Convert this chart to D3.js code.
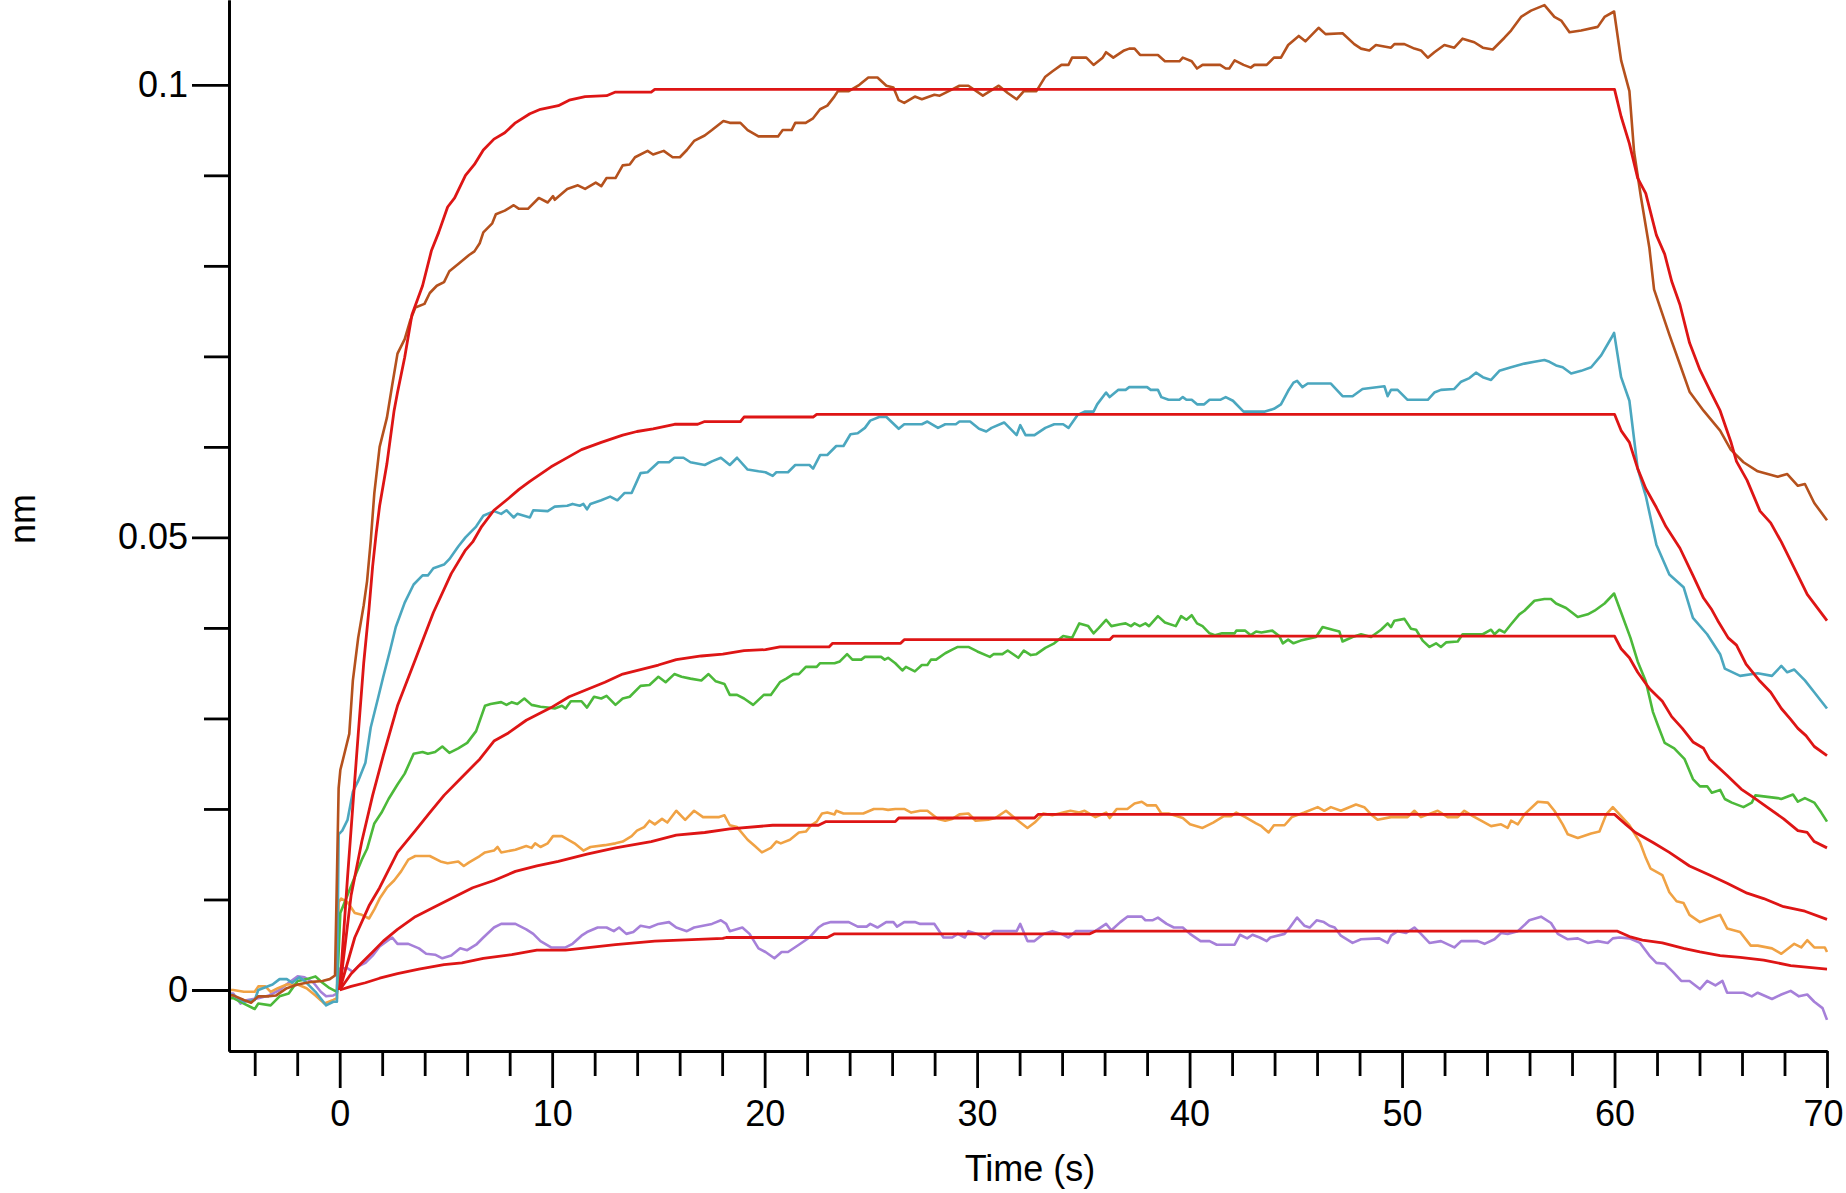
<!DOCTYPE html>
<html>
<head>
<meta charset="utf-8">
<script src="https://cdn.jsdelivr.net/npm/d3@7"></script>
<style>
  body { margin: 0; background: #fff; }
  text { font-family: "Liberation Sans", Arial, sans-serif; fill: #000; }
</style>
</head>
<body>
<div id="chart"></div>
<script>
// measured responses [time s, nm]
const brownData = [[-5.2,-0.0006],[-5.01,-0.0006],[-4.51,-0.0011],[-4.17,-0.0014],[-3.83,-0.0007],[-3.33,-0.0007],[-2.99,-0.0006],[-2.49,0.0002],[-1.98,0.0006],[-1.31,0.0009],[-0.81,0.001],[-0.47,0.0012],[-0.22,0.0016],[-0.05,0.0223],[0.03,0.0243],[0.2,0.0259],[0.45,0.0283],[0.62,0.0342],[0.87,0.0389],[1.13,0.0425],[1.29,0.0452],[1.46,0.0496],[1.63,0.0549],[1.88,0.06],[2.22,0.0632],[2.47,0.0668],[2.72,0.0703],[3.06,0.0719],[3.31,0.0739],[3.56,0.0754],[3.99,0.0758],[4.24,0.077],[4.57,0.0778],[4.91,0.0782],[5.16,0.0794],[5.58,0.0802],[6.09,0.0812],[6.34,0.0816],[6.59,0.0825],[6.76,0.0837],[7.18,0.0847],[7.35,0.0857],[7.77,0.0861],[8.19,0.0867],[8.44,0.0863],[8.86,0.0863],[9.37,0.0875],[9.79,0.087],[10.04,0.0877],[10.12,0.0873],[10.71,0.0885],[11.21,0.0889],[11.55,0.0885],[12.05,0.0892],[12.31,0.0888],[12.56,0.0897],[12.98,0.0897],[13.32,0.0911],[13.65,0.0912],[13.9,0.092],[14.49,0.0927],[14.75,0.0923],[15.25,0.0927],[15.67,0.092],[16.01,0.092],[16.34,0.0928],[16.68,0.0938],[17.18,0.0944],[17.52,0.095],[18.06,0.096],[18.36,0.0958],[18.86,0.0958],[19.2,0.095],[19.71,0.0943],[20.63,0.0943],[20.85,0.095],[21.27,0.095],[21.44,0.0958],[21.93,0.0958],[22.28,0.0963],[22.61,0.0973],[22.95,0.0977],[23.28,0.0987],[23.45,0.0993],[23.96,0.0993],[24.46,0.1],[24.88,0.1008],[25.31,0.1008],[25.73,0.0999],[26.06,0.0997],[26.31,0.0983],[26.57,0.098],[27.07,0.0987],[27.4,0.0984],[27.99,0.0989],[28.24,0.0988],[28.83,0.0995],[29.17,0.0999],[29.59,0.0999],[30.27,0.0988],[31.02,0.0999],[31.44,0.0991],[31.86,0.0984],[32.2,0.0993],[32.79,0.0993],[33.21,0.1009],[33.55,0.1015],[33.97,0.1022],[34.3,0.1022],[34.47,0.103],[35.14,0.103],[35.48,0.1022],[35.91,0.103],[36.07,0.1036],[36.41,0.103],[36.92,0.1038],[37.16,0.104],[37.41,0.104],[37.67,0.1033],[38.51,0.1033],[38.84,0.1026],[39.52,0.1026],[39.68,0.103],[40.1,0.1026],[40.35,0.1018],[40.61,0.1022],[41.44,0.1022],[41.7,0.1018],[41.87,0.1018],[42.12,0.1027],[42.54,0.1022],[42.88,0.1019],[43.05,0.1022],[43.63,0.1022],[43.97,0.103],[44.3,0.103],[44.64,0.1044],[45.14,0.1054],[45.45,0.1048],[46.07,0.1063],[46.4,0.1056],[47.2,0.1057],[47.75,0.1045],[48.07,0.104],[48.46,0.1038],[48.77,0.1044],[49.48,0.1041],[49.64,0.1045],[50.11,0.1045],[50.58,0.104],[50.89,0.1038],[51.21,0.103],[51.52,0.1036],[51.99,0.1044],[52.46,0.1041],[52.85,0.1051],[53.4,0.1047],[53.8,0.1041],[54.27,0.1039],[54.82,0.1052],[55.13,0.106],[55.6,0.1075],[56.07,0.1082],[56.7,0.1088],[57.17,0.1075],[57.49,0.1071],[57.88,0.1058],[58.43,0.106],[59.21,0.1064],[59.53,0.1075],[59.98,0.1081],[60.31,0.1027],[60.7,0.0993],[60.92,0.0926],[61.25,0.0875],[61.64,0.082],[61.86,0.0774],[62.58,0.0724],[63.08,0.0691],[63.53,0.0661],[64.19,0.064],[64.97,0.0618],[65.47,0.0597],[66.07,0.0583],[66.74,0.0573],[67.68,0.0567],[68.13,0.057],[68.63,0.0557],[68.96,0.0559],[69.4,0.0538],[70,0.0519]];

const tealData = [[-5.2,-0.0004],[-5.01,-0.0006],[-4.51,-0.0013],[-4,-0.0011],[-3.83,0],[-3.16,0.0006],[-2.83,0.0012],[-2.49,0.0012],[-2.24,0.0008],[-1.9,0.0014],[-1.65,0.001],[-1.14,-0.0002],[-0.64,-0.0017],[-0.3,-0.0013],[-0.13,-0.0013],[-0.05,0.0172],[0.12,0.0176],[0.37,0.0188],[0.62,0.0219],[0.87,0.0231],[1.21,0.0251],[1.46,0.029],[1.8,0.0322],[2.05,0.0346],[2.39,0.0377],[2.64,0.0401],[3.06,0.0428],[3.48,0.0448],[3.9,0.0458],[4.15,0.0458],[4.41,0.0466],[4.91,0.047],[5.16,0.0476],[5.58,0.049],[5.92,0.05],[6.42,0.0512],[6.76,0.0524],[7.26,0.0529],[7.6,0.0526],[7.85,0.053],[8.19,0.0522],[8.36,0.0526],[8.95,0.0522],[9.11,0.053],[9.79,0.0529],[10.12,0.0534],[10.71,0.0535],[10.96,0.0537],[11.3,0.0535],[11.47,0.0537],[11.64,0.0531],[11.8,0.0537],[12.31,0.0541],[12.73,0.0545],[13.07,0.0541],[13.4,0.0549],[13.74,0.0549],[14.16,0.0571],[14.49,0.0572],[15,0.0583],[15.5,0.0583],[15.75,0.0588],[16.18,0.0588],[16.51,0.0583],[17.18,0.058],[17.52,0.0584],[17.94,0.0588],[18.36,0.058],[18.7,0.0588],[19.2,0.0575],[19.71,0.0573],[20.04,0.0572],[20.38,0.0568],[20.55,0.0572],[21.1,0.0572],[21.44,0.058],[22.11,0.058],[22.28,0.0576],[22.61,0.0591],[22.95,0.0591],[23.37,0.0601],[23.71,0.0601],[24.04,0.0614],[24.38,0.0615],[24.72,0.0621],[24.97,0.0629],[25.39,0.0633],[25.73,0.0633],[26.31,0.062],[26.57,0.0625],[27.4,0.0625],[27.66,0.0628],[28.16,0.0621],[28.5,0.0625],[29,0.0625],[29.17,0.0628],[29.67,0.0628],[30.09,0.062],[30.43,0.0617],[30.68,0.0621],[31.27,0.0627],[31.86,0.0613],[32.03,0.0624],[32.28,0.0613],[32.7,0.0613],[33.21,0.0621],[33.63,0.0625],[34.05,0.0625],[34.3,0.0621],[34.72,0.0635],[35.06,0.0639],[35.48,0.0639],[35.65,0.0647],[36.07,0.066],[36.24,0.0655],[36.65,0.0663],[36.99,0.0663],[37.16,0.0666],[38,0.0666],[38.17,0.0663],[38.51,0.0663],[38.67,0.0655],[39.01,0.0652],[39.52,0.0652],[39.68,0.0655],[39.85,0.0652],[40.1,0.0652],[40.35,0.0647],[40.69,0.0647],[40.94,0.0652],[41.44,0.0652],[41.7,0.0655],[42.04,0.0651],[42.54,0.0639],[43.55,0.0639],[43.97,0.0642],[44.3,0.0647],[44.64,0.0662],[44.89,0.0671],[45.06,0.0673],[45.31,0.0666],[45.56,0.067],[46.65,0.067],[47.2,0.0656],[47.67,0.0656],[48.14,0.0664],[49.17,0.0667],[49.32,0.0656],[49.48,0.0663],[49.79,0.0663],[50.26,0.0652],[51.21,0.0652],[51.52,0.066],[51.83,0.0663],[52.46,0.0664],[52.78,0.0672],[53.17,0.0676],[53.48,0.0682],[53.8,0.0677],[54.19,0.0674],[54.58,0.0684],[55.13,0.0688],[55.76,0.0692],[56.23,0.0694],[56.7,0.0696],[56.94,0.0694],[57.25,0.069],[57.56,0.0688],[57.96,0.0681],[58.43,0.0684],[58.9,0.0688],[59.37,0.0701],[59.84,0.072],[59.98,0.0726],[60.31,0.0677],[60.7,0.0651],[61.09,0.0576],[61.47,0.0546],[61.97,0.0492],[62.58,0.0459],[63.25,0.0445],[63.69,0.0411],[64.36,0.0393],[64.97,0.0371],[65.19,0.0355],[65.91,0.0347],[66.74,0.035],[67.41,0.0347],[67.85,0.0358],[68.13,0.0351],[68.46,0.0354],[68.96,0.0342],[69.4,0.0329],[70,0.0311]];

const greenData = [[-5.2,-0.0009],[-5.01,-0.0009],[-4.51,-0.0015],[-4,-0.0021],[-3.83,-0.0015],[-3.25,-0.0017],[-2.83,-0.0007],[-2.4,-0.0004],[-1.98,0.001],[-1.56,0.0012],[-1.14,0.0015],[-0.81,0.0008],[-0.47,0.0002],[-0.13,-0.0002],[0.03,0.0085],[0.37,0.0105],[0.71,0.0125],[1.04,0.0144],[1.29,0.0156],[1.63,0.0184],[1.97,0.0196],[2.3,0.0211],[2.72,0.0227],[3.06,0.0239],[3.48,0.0261],[3.9,0.0263],[4.15,0.0261],[4.49,0.0263],[4.83,0.0269],[5.16,0.0262],[5.58,0.0267],[6,0.0273],[6.42,0.0286],[6.84,0.0314],[7.1,0.0316],[7.6,0.0318],[7.85,0.0315],[8.1,0.0318],[8.36,0.0316],[8.69,0.0322],[9.03,0.0315],[9.45,0.0313],[9.79,0.0312],[10.12,0.0311],[10.46,0.0314],[10.63,0.0311],[10.88,0.0319],[11.38,0.0319],[11.64,0.0312],[11.97,0.0324],[12.31,0.0322],[12.56,0.0325],[12.98,0.0315],[13.32,0.0322],[13.65,0.0324],[14.16,0.0336],[14.58,0.0337],[15,0.0346],[15.34,0.034],[15.75,0.0349],[16.09,0.0346],[16.51,0.0344],[17.02,0.0342],[17.36,0.0349],[17.7,0.0341],[18.11,0.0338],[18.36,0.0326],[18.7,0.0326],[19.03,0.0322],[19.46,0.0315],[19.96,0.0326],[20.29,0.0326],[20.72,0.034],[21.02,0.0344],[21.35,0.0349],[21.61,0.0349],[21.94,0.0357],[22.45,0.0357],[22.61,0.0361],[23.29,0.0361],[23.54,0.0363],[23.88,0.0371],[24.13,0.0365],[24.55,0.0365],[24.72,0.0368],[25.48,0.0368],[25.65,0.0365],[25.81,0.0367],[26.15,0.0361],[26.48,0.0353],[26.65,0.0357],[27.07,0.0352],[27.4,0.0359],[27.66,0.0359],[27.83,0.0365],[28.07,0.0365],[28.5,0.0372],[28.83,0.0376],[29.09,0.0379],[29.59,0.0379],[30.01,0.0374],[30.6,0.0368],[30.77,0.0371],[31.19,0.0371],[31.44,0.0375],[31.94,0.0367],[32.2,0.0375],[32.53,0.037],[32.79,0.0371],[33.21,0.0378],[33.63,0.0383],[34.05,0.0391],[34.47,0.0389],[34.81,0.0405],[35.23,0.0402],[35.48,0.0394],[35.73,0.04],[36.07,0.0409],[36.32,0.0402],[36.74,0.0404],[36.99,0.0405],[37.24,0.0402],[37.41,0.0405],[37.66,0.0402],[37.92,0.0405],[38.09,0.0402],[38.51,0.0413],[38.84,0.0406],[39.35,0.0402],[39.6,0.0413],[39.85,0.0409],[40.1,0.0414],[40.35,0.0405],[40.61,0.0402],[40.94,0.0394],[41.19,0.0392],[41.53,0.0394],[42.12,0.0394],[42.2,0.0397],[42.62,0.0397],[42.88,0.0392],[43.13,0.0396],[43.38,0.0395],[43.89,0.0397],[44.22,0.0391],[44.39,0.0383],[44.64,0.0387],[44.89,0.0383],[45.23,0.0386],[45.95,0.039],[46.26,0.0401],[46.73,0.0398],[47.05,0.0396],[47.2,0.0385],[47.67,0.039],[48.07,0.0393],[48.54,0.039],[49.01,0.0398],[49.32,0.0405],[49.48,0.0401],[49.64,0.0408],[50.11,0.041],[50.42,0.0399],[50.66,0.0398],[50.97,0.0386],[51.29,0.0379],[51.6,0.0383],[51.83,0.0379],[52.07,0.0384],[52.62,0.0385],[52.85,0.0393],[53.8,0.0393],[54.19,0.0398],[54.35,0.0393],[54.58,0.0398],[54.82,0.0395],[55.13,0.0404],[55.52,0.0415],[55.76,0.0419],[56.23,0.043],[56.7,0.0432],[57.01,0.0432],[57.25,0.0427],[57.72,0.0422],[58.27,0.0412],[58.74,0.0415],[59.06,0.0419],[59.53,0.0427],[59.98,0.0438],[60.31,0.0417],[60.75,0.0389],[61.09,0.0363],[61.47,0.0341],[61.81,0.0307],[62.03,0.0293],[62.36,0.0273],[62.81,0.0267],[63.3,0.0255],[63.69,0.0233],[64.02,0.0225],[64.36,0.0225],[64.58,0.0218],[64.97,0.0221],[65.19,0.0211],[65.52,0.0207],[66.07,0.0202],[66.46,0.0207],[66.63,0.0215],[67.68,0.0212],[67.85,0.0211],[68.4,0.0216],[68.63,0.0208],[68.96,0.0212],[69.4,0.0207],[69.73,0.0196],[70,0.0186]];

const orangeData = [[-5.2,0],[-5.01,0],[-4.51,-0.0002],[-4,-0.0002],[-3.83,0.0004],[-3.5,0.0004],[-3.25,-0.0002],[-2.91,0.0002],[-2.49,0.0006],[-1.98,0.0006],[-1.56,0.0002],[-1.14,-0.0006],[-0.72,-0.0015],[-0.3,-0.0011],[-0.13,-0.0009],[-0.05,0.0097],[0.07,0.0101],[0.37,0.0097],[0.71,0.0085],[1.04,0.0083],[1.38,0.0079],[1.63,0.0089],[1.88,0.0101],[2.22,0.0113],[2.56,0.0121],[2.89,0.0131],[3.23,0.0144],[3.56,0.0148],[4.24,0.0148],[4.74,0.0142],[5.08,0.014],[5.58,0.0142],[5.84,0.0137],[6.09,0.0141],[6.59,0.0148],[6.84,0.0152],[7.26,0.0154],[7.43,0.0158],[7.6,0.0152],[8.27,0.0155],[8.78,0.0159],[9.03,0.0157],[9.2,0.0162],[9.45,0.0158],[9.79,0.0162],[10.04,0.017],[10.46,0.017],[11.05,0.0162],[11.47,0.0154],[11.8,0.0158],[12.48,0.016],[12.98,0.0162],[13.32,0.0164],[13.74,0.017],[13.99,0.0176],[14.33,0.018],[14.58,0.0187],[14.83,0.0183],[15.17,0.0189],[15.42,0.0185],[15.84,0.0198],[16.26,0.0188],[16.68,0.0198],[17.1,0.0191],[17.86,0.0191],[18.11,0.0193],[18.36,0.0182],[18.7,0.018],[19.2,0.0166],[19.54,0.0159],[19.87,0.0152],[20.29,0.0157],[20.55,0.0164],[20.76,0.0162],[21.19,0.0166],[21.61,0.0174],[21.94,0.0175],[22.19,0.0182],[22.45,0.0186],[22.7,0.0195],[22.95,0.0196],[23.29,0.0194],[23.37,0.0198],[23.71,0.0195],[24.64,0.0195],[25.14,0.02],[25.56,0.02],[25.81,0.0199],[26.15,0.02],[26.57,0.02],[26.9,0.0196],[27.32,0.0198],[27.66,0.0198],[28.16,0.0189],[28.5,0.0187],[28.83,0.0189],[29.17,0.0194],[29.59,0.0195],[29.93,0.0187],[30.52,0.0188],[30.86,0.019],[31.36,0.0198],[31.87,0.0188],[32.37,0.0179],[32.71,0.0185],[33.12,0.0195],[33.54,0.0193],[34.05,0.0196],[34.39,0.0198],[34.81,0.0196],[35.06,0.0198],[35.57,0.0191],[36.07,0.0196],[36.24,0.019],[36.57,0.02],[37.07,0.02],[37.41,0.0206],[37.75,0.0208],[38,0.0204],[38.42,0.0204],[38.67,0.0195],[39.01,0.0195],[39.68,0.019],[40.02,0.0183],[40.61,0.0179],[41.11,0.0185],[41.61,0.0192],[41.95,0.0192],[42.2,0.0196],[42.62,0.0191],[43.13,0.0184],[43.38,0.0181],[43.72,0.0174],[43.97,0.0182],[44.47,0.0182],[44.81,0.0191],[45.4,0.0196],[46.03,0.0202],[46.34,0.0198],[46.65,0.0202],[47.12,0.0198],[47.83,0.0205],[48.22,0.0202],[48.54,0.0194],[48.85,0.0188],[49.48,0.0191],[50.26,0.0191],[50.58,0.0198],[50.89,0.0191],[51.68,0.0198],[52.15,0.0191],[52.62,0.0191],[52.93,0.0198],[53.33,0.0192],[53.72,0.0187],[54.19,0.0181],[54.66,0.0183],[54.97,0.0179],[55.13,0.0187],[55.45,0.0183],[55.76,0.0194],[56.39,0.0208],[56.86,0.0207],[57.17,0.0198],[57.56,0.0183],[57.8,0.0172],[58.27,0.0168],[58.9,0.0173],[59.29,0.0175],[59.61,0.0194],[59.92,0.0202],[60.31,0.0192],[60.7,0.0182],[61.2,0.0163],[61.47,0.0146],[61.7,0.0134],[62.25,0.0127],[62.58,0.0108],[62.92,0.0098],[63.25,0.0096],[63.53,0.0083],[64.02,0.0075],[64.47,0.0079],[64.97,0.0083],[65.3,0.0068],[65.91,0.0064],[66.41,0.0049],[66.74,0.0049],[67.41,0.0046],[67.85,0.004],[68.46,0.0051],[68.79,0.0047],[69.07,0.0055],[69.4,0.0047],[69.9,0.0047],[70,0.0042]];

const purpleData = [[-5.2,-0.0004],[-5.01,-0.0004],[-4.67,-0.0015],[-4.34,-0.0011],[-3.83,-0.0009],[-3.33,-0.0006],[-2.83,0],[-2.4,0.0008],[-1.98,0.0015],[-1.65,0.0014],[-1.23,0.0008],[-0.89,-0.0002],[-0.64,-0.0007],[-0.3,-0.0006],[-0.13,-0.0004],[0.03,0.0024],[0.37,0.0024],[0.62,0.002],[0.87,0.0026],[1.21,0.003],[1.55,0.0038],[1.88,0.0048],[2.22,0.0054],[2.47,0.0058],[2.72,0.0051],[3.23,0.0051],[3.73,0.0046],[4.07,0.004],[4.49,0.0039],[4.83,0.0035],[5.25,0.0038],[5.67,0.0046],[6,0.0044],[6.42,0.005],[6.76,0.0058],[7.26,0.0069],[7.6,0.0073],[8.27,0.0073],[8.78,0.0067],[9.11,0.0062],[9.45,0.0054],[9.95,0.0047],[10.63,0.0047],[10.96,0.0051],[11.38,0.006],[11.64,0.0064],[12.14,0.0069],[12.56,0.0069],[12.9,0.0065],[13.15,0.0069],[13.49,0.0062],[13.82,0.0064],[14.16,0.0071],[14.58,0.0069],[15,0.0073],[15.5,0.0075],[15.84,0.0069],[16.34,0.0065],[16.68,0.0069],[17.1,0.0071],[17.52,0.0073],[17.94,0.0077],[18.19,0.0073],[18.36,0.0065],[18.95,0.0069],[19.29,0.0062],[19.71,0.0046],[20.04,0.0042],[20.46,0.0035],[20.8,0.0042],[21.1,0.0042],[21.61,0.005],[22.11,0.0058],[22.53,0.0069],[22.79,0.0073],[23.12,0.0075],[23.96,0.0075],[24.38,0.007],[24.8,0.007],[24.97,0.0073],[25.31,0.0069],[25.72,0.0075],[26.06,0.0075],[26.23,0.007],[26.57,0.0075],[27.07,0.0075],[27.32,0.0073],[27.99,0.0073],[28.42,0.0058],[28.83,0.0058],[29.09,0.0062],[29.42,0.0058],[29.59,0.0065],[30.01,0.0062],[30.35,0.0057],[30.77,0.0065],[31.86,0.0065],[32.03,0.0073],[32.37,0.0054],[32.7,0.0054],[33.12,0.0062],[33.54,0.0065],[33.96,0.0062],[34.3,0.0058],[34.64,0.0065],[35.56,0.0065],[36.07,0.0073],[36.32,0.0066],[36.74,0.0075],[37.07,0.0081],[37.75,0.0081],[37.92,0.0077],[38.25,0.0077],[38.51,0.008],[38.92,0.0073],[39.26,0.0069],[39.68,0.0069],[40.02,0.0062],[40.52,0.0054],[40.94,0.0054],[41.28,0.005],[42.12,0.005],[42.37,0.0061],[42.71,0.0057],[42.96,0.0061],[43.3,0.0058],[43.63,0.0054],[43.8,0.0058],[44.47,0.0062],[44.72,0.0069],[45.06,0.008],[45.4,0.0071],[45.65,0.0069],[45.98,0.0077],[46.32,0.0075],[46.58,0.0071],[46.83,0.0069],[47.12,0.006],[47.67,0.0052],[48.07,0.0056],[48.93,0.0057],[49.32,0.0052],[49.48,0.006],[49.79,0.0065],[50.19,0.0063],[50.58,0.0069],[50.89,0.0062],[51.29,0.0052],[51.83,0.0054],[52.46,0.0047],[52.78,0.0054],[53.56,0.0054],[53.88,0.0051],[54.35,0.0056],[54.66,0.0063],[54.97,0.0062],[55.45,0.0065],[55.99,0.0077],[56.54,0.0081],[57.01,0.0074],[57.33,0.0062],[57.8,0.0056],[58.27,0.0057],[58.74,0.0052],[59.21,0.0054],[59.68,0.0052],[59.92,0.0057],[60.23,0.0058],[60.7,0.0057],[61.2,0.0052],[61.64,0.0038],[61.97,0.003],[62.36,0.0029],[62.75,0.002],[63.14,0.001],[63.53,0.001],[64.02,0.0001],[64.36,0.001],[64.75,0.0005],[65.08,0.001],[65.3,-0.0003],[66.07,-0.0003],[66.46,-0.0007],[66.74,-0.0003],[67.41,-0.001],[67.85,-0.0005],[68.29,-0.0001],[68.68,-0.0007],[69.07,-0.0005],[69.4,-0.0013],[69.79,-0.002],[70,-0.0033]];

// fitted curves (red)
const fitBrown = [[0,0],[0.37,0.0125],[0.62,0.0204],[0.87,0.0282],[1.13,0.0361],[1.38,0.0421],[1.55,0.0468],[1.72,0.0505],[1.88,0.0535],[2.22,0.0581],[2.56,0.064],[2.72,0.066],[3.06,0.0699],[3.4,0.0746],[3.9,0.0778],[4.32,0.0817],[4.66,0.0837],[5.08,0.0865],[5.41,0.0875],[5.92,0.09],[6.34,0.0912],[6.76,0.0928],[7.26,0.094],[7.77,0.0947],[8.27,0.0958],[8.95,0.0968],[9.45,0.0973],[10.29,0.0977],[10.8,0.0983],[11.55,0.0987],[12.56,0.0988],[12.98,0.0992],[14.66,0.0992],[14.83,0.0995],[60,0.0995],[60.31,0.0965],[60.7,0.0935],[61.09,0.0897],[61.47,0.088],[61.97,0.0834],[62.36,0.0813],[62.69,0.0783],[63.08,0.0757],[63.53,0.0715],[64.02,0.0685],[64.52,0.0661],[64.97,0.064],[65.47,0.0606],[65.74,0.0584],[66.24,0.0563],[66.85,0.0529],[67.35,0.0516],[67.85,0.0495],[68.63,0.0458],[69.07,0.0437],[70,0.0408]];
const fitTeal = [[0,0],[0.54,0.0105],[1.04,0.0164],[1.55,0.0215],[2.05,0.0259],[2.72,0.0314],[3.56,0.0365],[4.41,0.0417],[5.25,0.046],[5.92,0.0486],[6.26,0.0495],[6.68,0.0512],[7.26,0.053],[7.94,0.0543],[8.44,0.0553],[8.95,0.0562],[9.45,0.057],[9.95,0.0578],[10.63,0.0587],[11.38,0.0597],[12.31,0.0605],[13.32,0.0613],[13.99,0.0617],[14.75,0.062],[15.76,0.0625],[16.85,0.0625],[17.18,0.0628],[18.86,0.0628],[19.03,0.0633],[22.28,0.0633],[22.45,0.0636],[60,0.0636],[60.31,0.0618],[60.7,0.0605],[61.09,0.0576],[61.47,0.0554],[61.97,0.0533],[62.42,0.0512],[63.08,0.0488],[63.69,0.0458],[64.19,0.0433],[64.58,0.042],[64.86,0.0408],[65.35,0.0389],[65.74,0.0381],[66.19,0.036],[66.85,0.0341],[67.35,0.0329],[67.85,0.0311],[68.29,0.0299],[68.63,0.0289],[69.01,0.0281],[69.4,0.0269],[70,0.0259]];
const fitGreen = [[0,0],[0.71,0.0058],[1.38,0.0093],[1.88,0.0113],[2.72,0.0152],[3.56,0.0176],[4.24,0.0196],[4.91,0.0215],[5.75,0.0235],[6.59,0.0255],[7.26,0.0275],[7.94,0.0284],[8.78,0.0298],[9.95,0.0312],[10.8,0.0324],[11.64,0.0332],[12.48,0.034],[13.32,0.0349],[14.16,0.0354],[15,0.0359],[15.84,0.0365],[17.02,0.0369],[18.03,0.0371],[19.03,0.0375],[20.04,0.0376],[20.72,0.0379],[23.03,0.0379],[23.2,0.0383],[26.4,0.0383],[26.57,0.0387],[36.24,0.0387],[36.41,0.0391],[60,0.0391],[60.31,0.0377],[60.7,0.0367],[61.09,0.0351],[61.64,0.0333],[62.25,0.0319],[62.69,0.0302],[63.19,0.0289],[63.69,0.0274],[64.19,0.0267],[64.47,0.0255],[65.3,0.0237],[65.96,0.0222],[66.52,0.0213],[67.18,0.0202],[67.96,0.0189],[68.63,0.0176],[69.07,0.0174],[69.4,0.0164],[70,0.0157]];
const fitOrange = [[0,0],[0.54,0.0018],[1.04,0.003],[1.55,0.0042],[2.05,0.0054],[2.72,0.0067],[3.56,0.0081],[4.41,0.0091],[5.25,0.0101],[6.26,0.0113],[7.26,0.0121],[8.27,0.0131],[9.28,0.0137],[10.29,0.0142],[11.64,0.015],[12.98,0.0157],[14.66,0.0164],[15.84,0.0171],[17.18,0.0174],[18.36,0.0178],[20.38,0.0182],[22.53,0.0182],[22.87,0.0186],[26.15,0.0186],[26.31,0.019],[32.7,0.019],[32.87,0.0194],[60,0.0194],[60.53,0.0183],[60.98,0.0174],[61.81,0.0163],[62.58,0.0152],[63.53,0.0137],[64.47,0.0127],[65.3,0.0118],[66.24,0.0107],[67.02,0.0101],[67.96,0.0092],[68.96,0.0087],[70,0.0078]];
const fitPurple = [[0,0],[0.54,0.0004],[1.21,0.0008],[1.88,0.0013],[2.72,0.0018],[3.73,0.0023],[4.91,0.0028],[5.75,0.003],[6.76,0.0035],[8.1,0.0039],[9.28,0.0044],[10.63,0.0044],[12.98,0.005],[14.83,0.0054],[18.03,0.0057],[18.19,0.0058],[22.95,0.0058],[23.29,0.0062],[35.31,0.0062],[35.56,0.0065],[60.14,0.0065],[60.7,0.0059],[61.31,0.0055],[62.25,0.0052],[63.25,0.0046],[64.02,0.0042],[64.97,0.0038],[65.91,0.0036],[67.02,0.0033],[68.29,0.0027],[70,0.0023]];

const xMajorTicks = [0, 10, 20, 30, 40, 50, 60, 70];
const xMinorTicks = [-4, -2, 2, 4, 6, 8, 12, 14, 16, 18, 22, 24, 26, 28, 32, 34, 36, 38, 42, 44, 46, 48, 52, 54, 56, 58, 62, 64, 66, 68];
const yMajorTicks = [0, 0.05, 0.1];
const yMinorTicks = [0.01, 0.02, 0.03, 0.04, 0.06, 0.07, 0.08, 0.09];

const W = 1846, H = 1193;
const svg = d3.select("#chart").append("svg")
  .attr("width", W).attr("height", H).attr("viewBox", `0 0 ${W} ${H}`);

const x = d3.scaleLinear().domain([-5.21, 70]).range([229, 1827]);
const y = d3.scaleLinear().domain([-0.00674, 0.10937]).range([1051, 0]);

// curves: data first, fits on top
const line = d3.line().x(d => x(d[0])).y(d => y(d[1]));
const measured = [
  [purpleData, "#a680d9"],
  [orangeData, "#f0a244"],
  [greenData, "#4cb93a"],
  [tealData, "#4ba7bf"],
  [brownData, "#b5511d"]
];
svg.append("g").selectAll("path").data(measured).join("path")
  .attr("d", d => line(d[0]))
  .attr("fill", "none").attr("stroke", d => d[1])
  .attr("stroke-width", 2.6).attr("stroke-linejoin", "round");

const fits = [fitPurple, fitOrange, fitGreen, fitTeal, fitBrown];
svg.append("g").selectAll("path").data(fits).join("path")
  .attr("d", d => line(d))
  .attr("fill", "none").attr("stroke", "#de1515")
  .attr("stroke-width", 2.8).attr("stroke-linejoin", "round");

// axes
const styleAxis = g => {
  g.selectAll(".domain, line").attr("stroke", "#000").attr("stroke-width", 2.8);
  g.selectAll("text").attr("font-size", 36).attr("fill", "#000")
    .attr("font-family", '"Liberation Sans", Arial, sans-serif');
};

svg.append("g").attr("transform", "translate(0,1051)")
  .call(d3.axisBottom(x).tickValues(xMinorTicks).tickSize(25).tickSizeOuter(0).tickFormat(""))
  .call(styleAxis);
svg.append("g").attr("transform", "translate(0,1051)")
  .call(d3.axisBottom(x).tickValues(xMajorTicks).tickSize(37).tickSizeOuter(0).tickPadding(12).tickFormat(d3.format("d")))
  .call(styleAxis)
  .call(g => g.selectAll("text").filter(d => d === 70).attr("dx", -4));

svg.append("g").attr("transform", "translate(229,0)")
  .call(d3.axisLeft(y).tickValues(yMinorTicks).tickSize(25).tickSizeOuter(0).tickFormat(""))
  .call(styleAxis);
svg.append("g").attr("transform", "translate(229,0)")
  .call(d3.axisLeft(y).tickValues(yMajorTicks).tickSize(37).tickSizeOuter(0).tickPadding(4).tickFormat(d => d === 0 ? "0" : String(d)))
  .call(styleAxis);

// axis titles
svg.append("text").attr("x", 1030).attr("y", 1181)
  .attr("text-anchor", "middle").attr("font-size", 36).text("Time (s)");
svg.append("text").attr("transform", "translate(35,519) rotate(-90)")
  .attr("text-anchor", "middle").attr("font-size", 36).text("nm");
</script>
</body>
</html>
